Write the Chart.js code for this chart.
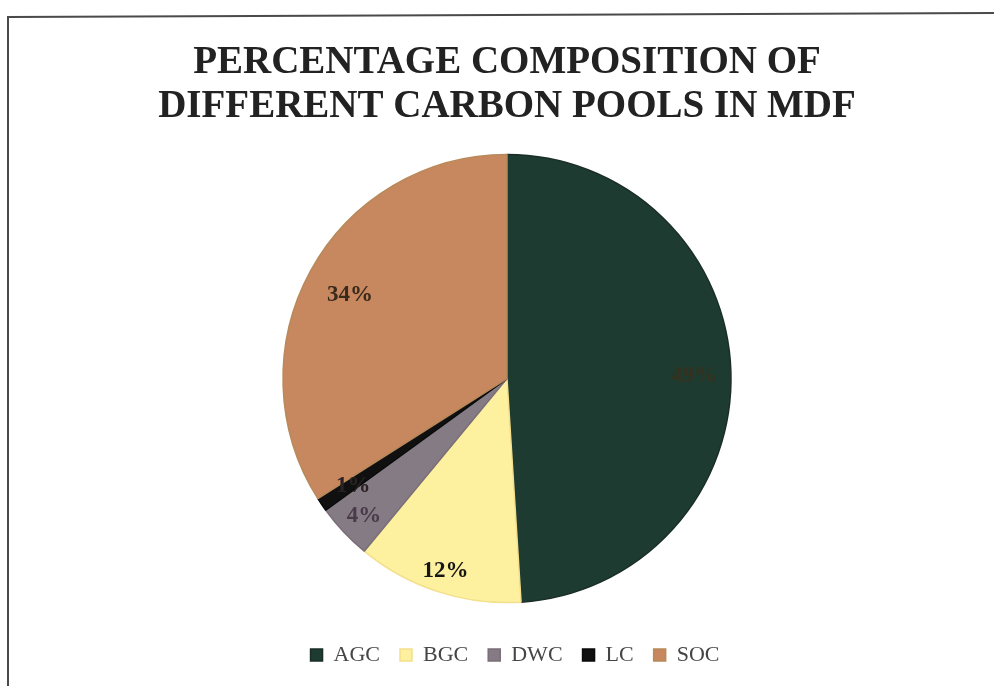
<!DOCTYPE html>
<html>
<head>
<meta charset="utf-8">
<title>Percentage composition of different carbon pools in MDF</title>
<script src="https://cdn.jsdelivr.net/npm/chart.js@4.4.1/dist/chart.umd.min.js"></script>
<style>
  html, body { margin: 0; padding: 0; background: #ffffff; }
  #wrap { width: 994px; height: 686px; position: relative; }
</style>
</head>
<body>
<div id="wrap"><canvas id="pie" width="994" height="686"></canvas></div>
<script>
// Carbon pools and their share of the total stock (%)
const categories = ['AGC', 'BGC', 'DWC', 'LC', 'SOC'];
const shares = [49, 12, 4, 1, 34];

const titleLines = ['PERCENTAGE COMPOSITION OF', 'DIFFERENT CARBON POOLS IN MDF'];

// Slice styling
const sliceFill   = ['#1e3b31', '#fdf1a0', '#857b84', '#101010', '#c7875f'];
const sliceEdge   = ['#1a2e27', '#f3df8c', '#7a6e78', '#0a0a0a', '#b8895a'];
const labelInk    = ['#34321f', '#161616', '#4a3a4a', '#2a2222', '#3a2a1c'];
const labelRadius = [0.835, 0.89, 0.875, 0.83, 0.80];

const serif = "'Liberation Serif', 'Times New Roman', Times, serif";

// Outer frame around the chart
const framePlugin = {
  id: 'frame',
  beforeDraw(chart) {
    const ctx = chart.ctx;
    ctx.save();
    ctx.strokeStyle = '#4a4a4a';
    ctx.lineWidth = 2;
    ctx.beginPath();
    ctx.moveTo(8, 686);
    ctx.lineTo(8, 17);
    ctx.lineTo(994, 13);
    ctx.stroke();
    ctx.restore();
  }
};

// Nudge the legend row a little to the right of the plot centre
const legendShift = {
  id: 'legendShift',
  afterLayout(chart) {
    if (chart.legend) {
      chart.legend.left += 8;
      chart.legend.right += 8;
    }
  }
};

// Percentage labels inside each slice
const sliceLabels = {
  id: 'sliceLabels',
  afterDatasetsDraw(chart) {
    const ctx = chart.ctx;
    const meta = chart.getDatasetMeta(0);
    ctx.save();
    ctx.font = 'bold 23px ' + serif;
    ctx.textAlign = 'center';
    ctx.textBaseline = 'middle';
    meta.data.forEach((arc, i) => {
      const p = arc.getProps(['x', 'y', 'startAngle', 'endAngle', 'outerRadius'], true);
      const mid = (p.startAngle + p.endAngle) / 2;
      const r = p.outerRadius * labelRadius[i];
      ctx.fillStyle = labelInk[i];
      ctx.fillText(shares[i] + '%', p.x + Math.cos(mid) * r, p.y + Math.sin(mid) * r + 3);
    });
    ctx.restore();
  }
};

new Chart(document.getElementById('pie'), {
  type: 'pie',
  data: {
    labels: categories,
    datasets: [{
      data: shares,
      backgroundColor: sliceFill,
      borderColor: sliceEdge,
      borderWidth: 1.5,
      radius: 224
    }]
  },
  options: {
    responsive: false,
    devicePixelRatio: 1,
    animation: false,
    layout: { padding: { top: 0, left: 20, right: 0, bottom: 10 } },
    plugins: {
      title: {
        display: true,
        text: titleLines,
        color: '#222222',
        font: { family: serif, size: 39, weight: 'bold', lineHeight: 1.13 },
        padding: { top: 41, bottom: 4 }
      },
      legend: {
        position: 'bottom',
        labels: {
          color: '#454545',
          font: { family: serif, size: 22 },
          boxWidth: 12,
          boxHeight: 12,
          padding: 20
        }
      },
      tooltip: { enabled: false }
    }
  },
  plugins: [framePlugin, legendShift, sliceLabels]
});
</script>
</body>
</html>
